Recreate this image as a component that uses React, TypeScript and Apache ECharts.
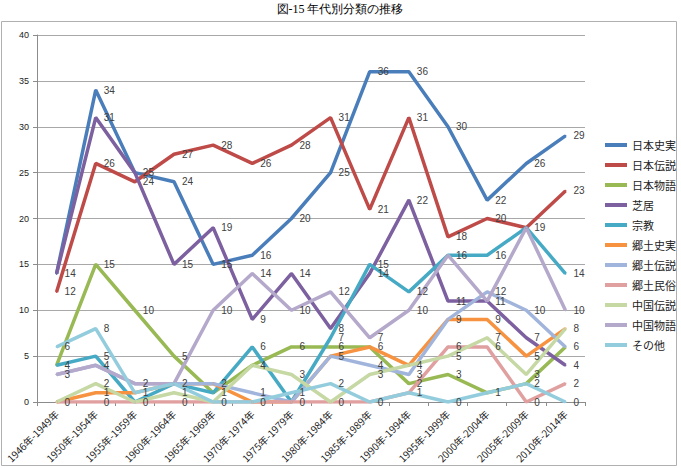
import React, { useEffect, useRef } from "react";
import * as echarts from "echarts";

const categories = [
  "1946年-1949年", "1950年-1954年", "1955年-1959年", "1960年-1964年", "1965年-1969年",
  "1970年-1974年", "1975年-1979年", "1980年-1984年", "1985年-1989年", "1990年-1994年",
  "1995年-1999年", "2000年-2004年", "2005年-2009年", "2010年-2014年",
];

const nihonShijitsu = [14, 34, 25, 24, 15, 16, 20, 25, 36, 36, 30, 22, 26, 29];
const nihonDensetsu = [12, 26, 24, 27, 28, 26, 28, 31, 21, 31, 18, 20, 19, 23];
const nihonMonogatari = [4, 15, 10, 5, 1, 4, 6, 6, 6, 2, 3, 1, 2, 6];
const shibai = [14, 31, 25, 15, 19, 9, 14, 8, 14, 22, 11, 11, 7, 4];
const shukyo = [4, 5, 0, 2, 1, 6, 0, 7, 15, 12, 16, 16, 19, 14];
const kyodoShijitsu = [0, 1, 1, 2, 2, 0, 0, 5, 6, 4, 9, 9, 5, 8];
const kyodoDensetsu = [3, 4, 2, 2, 2, 1, 0, 5, 4, 3, 9, 12, 10, 6];
const kyodoMinzoku = [0, 0, 0, 0, 0, 0, 0, 0, 0, 1, 6, 6, 0, 2];
const chugokuDensetsu = [0, 2, 0, 1, 0, 4, 3, 0, 3, 4, 5, 7, 3, 8];
const chugokuMonogatari = [3, 4, 2, 2, 10, 14, 10, 12, 7, 10, 16, 11, 19, 10];
const sonota = [6, 8, 1, 2, 0, 0, 1, 2, 0, 1, 0, 1, 2, 0];

const yTicks = { min: 0, max: 40, interval: 5 };

const seriesDefs = [
  { name: "日本史実", data: nihonShijitsu, color: "#4A7EBB" },
  { name: "日本伝説", data: nihonDensetsu, color: "#BE4B48" },
  { name: "日本物語", data: nihonMonogatari, color: "#98B954" },
  { name: "芝居", data: shibai, color: "#7D60A0" },
  { name: "宗教", data: shukyo, color: "#46AAC5" },
  { name: "郷土史実", data: kyodoShijitsu, color: "#F69240" },
  { name: "郷土伝説", data: kyodoDensetsu, color: "#A1B5DC" },
  { name: "郷土民俗", data: kyodoMinzoku, color: "#E0A0A0" },
  { name: "中国伝説", data: chugokuDensetsu, color: "#C6D8A4" },
  { name: "中国物語", data: chugokuMonogatari, color: "#B4A8CB" },
  { name: "その他", data: sonota, color: "#93CDDD" },
];

export default function App() {
  const ref = useRef<HTMLDivElement>(null);
  useEffect(() => {
    document.body.style.margin = "0";
    if (!ref.current) return;
    const chart = echarts.init(ref.current, null, { renderer: "svg" });

    // identical labels at the same category sit on top of each other; draw one of each
    const seen: Set<number>[] = categories.map(() => new Set<number>());
    const seriesList = seriesDefs.map((s) => ({
      name: s.name,
      type: "line",
      data: s.data.map((v, i) => {
        const dup = seen[i].has(v);
        seen[i].add(v);
        return dup ? { value: v, label: { show: false } } : v;
      }),
      symbol: "circle",
      symbolSize: 2,
      showSymbol: true,
      itemStyle: { color: s.color, borderWidth: 0 },
      color: s.color,
      lineStyle: { width: 3.5, color: s.color },
      label: {
        show: true,
        position: "right",
        distance: 7,
        fontSize: 10,
        color: "#404040",
        fontFamily: "Liberation Sans",
      },
    }));

    chart.setOption({
      animation: false,
      backgroundColor: "#ffffff",
      graphic: [
        {
          type: "rect",
          shape: { x: 1.5, y: 21.5, width: 675, height: 444 },
          style: { fill: "none", stroke: "#b0b0b0", lineWidth: 1 },
          z: 0,
        },
        {
          type: "text",
          x: 340,
          y: 9,
          style: {
            text: "図-15 年代別分類の推移",
            fontFamily: "serif",
            fontSize: 12,
            fill: "#000",
            textAlign: "center",
            textVerticalAlign: "middle",
          },
        },
      ],
      grid: { left: 37, right: 96, top: 35, bottom: 66, containLabel: false },
      legend: {
        orient: "vertical",
        left: 600,
        top: 133,
        itemWidth: 22,
        itemHeight: 4,
        itemGap: 6,
        icon: "rect",
        textStyle: { fontSize: 11, color: "#222", lineHeight: 14, fontFamily: "Noto Sans CJK JP" },
        data: seriesDefs.map((s) => ({
          name: s.name,
          icon: "rect",
          itemStyle: { color: s.color, opacity: 1, borderWidth: 0 },
        })),
      },
      xAxis: {
        type: "category",
        data: categories,
        boundaryGap: true,
        axisLine: { lineStyle: { color: "#8c8c8c", width: 1 } },
        axisTick: { show: true, length: 4, lineStyle: { color: "#8c8c8c" } },
        axisLabel: {
          rotate: 45,
          fontSize: 10,
          color: "#222",
          margin: 10,
          interval: 0,
          fontFamily: "Noto Sans CJK JP",
        },
      },
      yAxis: {
        type: "value",
        min: yTicks.min,
        max: yTicks.max,
        interval: yTicks.interval,
        axisLine: { show: true, lineStyle: { color: "#8c8c8c", width: 1 } },
        axisTick: { show: true, length: 4, lineStyle: { color: "#8c8c8c" } },
        axisLabel: { fontSize: 9, color: "#222", margin: 8, fontFamily: "Liberation Sans" },
        splitLine: { lineStyle: { color: "#a8a8a8", width: 1 } },
      },
      series: seriesList,
    });
    return () => chart.dispose();
  }, []);
  return <div ref={ref} style={{ width: 681, height: 468 }} />;
}
